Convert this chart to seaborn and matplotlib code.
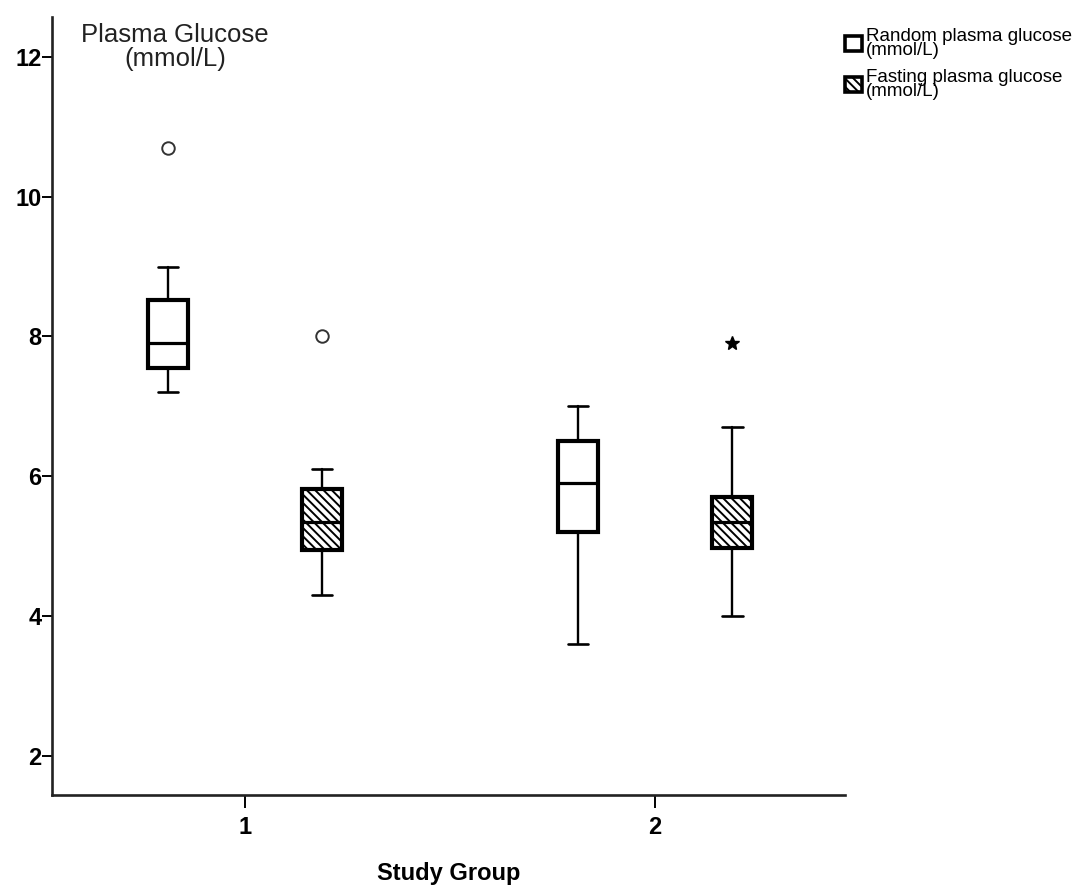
import matplotlib
matplotlib.use("Agg")
import matplotlib.pyplot as plt
import seaborn as sns
from matplotlib.patches import Patch

# summary stats (SPSS style boxplot)
groups = [1, 2]
series = ["Random plasma glucose\n(mmol/L)", "Fasting plasma glucose\n(mmol/L)"]
whislo = [[7.2, 3.6], [4.3, 4.0]]
q1 = [[7.55, 5.2], [4.95, 4.98]]
med = [[7.9, 5.9], [5.35, 5.35]]
q3 = [[8.52, 6.5], [5.82, 5.71]]
whishi = [[9.0, 7.0], [6.1, 6.7]]
outliers = [[[10.7], []], [[8.0], []]]
extremes = [[[], []], [[], [7.9]]]

sns.set_style("ticks", {"text.color": "black", "axes.edgecolor": "black",
                        "xtick.color": "black", "ytick.color": "black",
                        "axes.labelcolor": "black"})
plt.rcParams['font.family'] = ['Liberation Sans', 'DejaVu Sans']
plt.rcParams['hatch.linewidth'] = 1.4

fig = plt.figure(figsize=(10.86, 8.91), dpi=100)
ax = fig.add_axes([0.0479, 0.1077, 0.7302, 0.8733])

offsets = [-0.188, 0.188]
hatches = [None, '\\\\\\\\']
for s in range(len(series)):
    stats = []
    pos = []
    for g in range(len(groups)):
        stats.append(dict(whislo=whislo[s][g], q1=q1[s][g], med=med[s][g],
                          q3=q3[s][g], whishi=whishi[s][g], fliers=[]))
        pos.append(groups[g] + offsets[s])
    res = ax.bxp(stats, positions=pos, widths=0.098, patch_artist=True,
                 showfliers=False,
                 boxprops=dict(linewidth=3.0, edgecolor='black', facecolor='white'),
                 medianprops=dict(linewidth=2.3, color='black'),
                 whiskerprops=dict(linewidth=1.7, color='black'),
                 capprops=dict(linewidth=1.9, color='black'),
                 capwidths=0.05)
    for b in res['boxes']:
        if hatches[s]:
            b.set_hatch(hatches[s])
    for g in range(len(groups)):
        x = groups[g] + offsets[s]
        if outliers[s][g]:
            ax.plot([x] * len(outliers[s][g]), outliers[s][g], 'o', ms=9,
                    mfc='white', mec='#333333', mew=1.4)
        if extremes[s][g]:
            ax.plot([x] * len(extremes[s][g]), extremes[s][g], '*', ms=10,
                    color='black')

ax.set_xlim(0.529, 2.463)
ax.set_ylim(1.44, 12.57)
ax.set_xticks(groups)
ax.set_xticklabels([str(g) for g in groups], fontsize=17, fontweight='bold')
ax.set_yticks([2, 4, 6, 8, 10, 12])
ax.set_yticklabels(['2', '4', '6', '8', '10', '12'], fontsize=17, fontweight='bold')
ax.tick_params(axis='y', length=7, width=1.4, pad=0.5)
ax.tick_params(axis='x', length=9, width=1.4, pad=6)
for side in ['top', 'right']:
    ax.spines[side].set_visible(False)
for side in ['left', 'bottom']:
    ax.spines[side].set_linewidth(1.9)
    ax.spines[side].set_color('#222222')

ax.set_xlabel('Study Group', fontsize=17, fontweight='bold', labelpad=17)
ax.text(0.155, 0.992, 'Plasma Glucose\n(mmol/L)', transform=ax.transAxes,
        ha='center', va='top', fontsize=18.5, linespacing=1.0, color='#222222')

handles = [Patch(facecolor='white', edgecolor='black', linewidth=2.6, hatch=h)
           for h in hatches]
leg = fig.legend(handles, series, loc='upper left', bbox_to_anchor=(0.771, 0.977),
                 frameon=False, fontsize=13.5, handlelength=0.9, handleheight=0.9,
                 handletextpad=0.25, labelspacing=0.55, borderaxespad=0)
for t in leg.get_texts():
    t.set_linespacing(0.75)

fig.savefig('out.png', dpi=100)
